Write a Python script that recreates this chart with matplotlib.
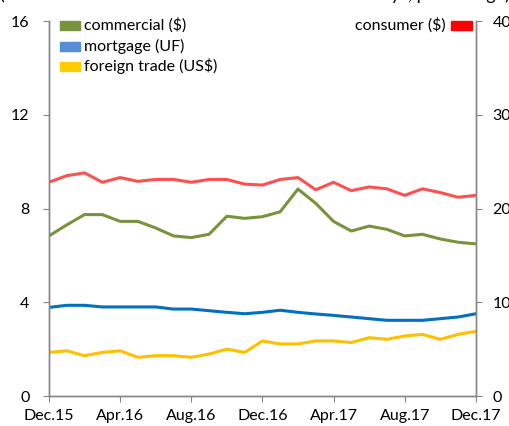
import matplotlib
matplotlib.use("Agg")
import matplotlib.pyplot as plt
from matplotlib.patches import Rectangle

plt.rcParams['font.family'] = ['Lato', 'DejaVu Sans']

months = ['Dec.15', 'Jan.16', 'Feb.16', 'Mar.16', 'Apr.16', 'May.16', 'Jun.16', 'Jul.16',
          'Aug.16', 'Sep.16', 'Oct.16', 'Nov.16', 'Dec.16', 'Jan.17', 'Feb.17', 'Mar.17',
          'Apr.17', 'May.17', 'Jun.17', 'Jul.17', 'Aug.17', 'Sep.17', 'Oct.17', 'Nov.17', 'Dec.17']

commercial = [6.83, 7.30, 7.74, 7.74, 7.45, 7.45, 7.17, 6.83, 6.76, 6.90, 7.67, 7.58, 7.65,
              7.86, 8.83, 8.22, 7.45, 7.04, 7.25, 7.11, 6.83, 6.90, 6.70, 6.56, 6.49]
mortgage = [3.78, 3.87, 3.87, 3.80, 3.80, 3.80, 3.80, 3.71, 3.71, 3.64, 3.57, 3.51, 3.57,
            3.66, 3.57, 3.50, 3.44, 3.37, 3.30, 3.23, 3.23, 3.23, 3.30, 3.37, 3.51]
foreign = [1.86, 1.93, 1.72, 1.86, 1.93, 1.65, 1.72, 1.72, 1.65, 1.79, 2.00, 1.86, 2.35,
           2.22, 2.22, 2.35, 2.35, 2.28, 2.49, 2.42, 2.56, 2.63, 2.42, 2.63, 2.76]
consumer = [22.8, 23.5, 23.8, 22.8, 23.3, 22.9, 23.1, 23.1, 22.8, 23.1, 23.1, 22.6, 22.5,
            23.1, 23.3, 22.0, 22.8, 21.9, 22.3, 22.1, 21.4, 22.1, 21.7, 21.2, 21.4]

left_ticks = [0, 4, 8, 12, 16]
right_ticks = [0, 10, 20, 30, 40]

c_green = '#77933C'
c_blue = '#0070C0'
c_yellow = '#FFC000'
c_red = '#FF5050'
spine_c = '#868686'

fig = plt.figure(figsize=(5.1, 4.26), dpi=100)
ax = fig.add_axes([0.096, 0.0704, 0.837, 0.8803])
ax2 = ax.twinx()

x = list(range(len(months)))
ax.plot(x, commercial, color=c_green, lw=2.2)
ax.plot(x, mortgage, color=c_blue, lw=2.2)
ax.plot(x, foreign, color=c_yellow, lw=2.2)
ax2.plot(x, consumer, color=c_red, lw=2.2)

ax.set_xlim(0, len(months) - 1)
ax.set_ylim(0, 16)
ax2.set_ylim(0, 40)
ax.set_yticks(left_ticks)
ax2.set_yticks(right_ticks)
ax.set_xticks(x[::4])
ax.set_xticklabels(months[::4])

for a in (ax, ax2):
    a.spines['top'].set_visible(False)
    for s in ('left', 'right', 'bottom'):
        a.spines[s].set_color(spine_c)
        a.spines[s].set_linewidth(1.0)
    a.tick_params(axis='both', direction='out', length=4, color=spine_c,
                  labelsize=11.5)
ax.tick_params(axis='y', pad=10)
ax2.tick_params(axis='y', pad=8)
ax.tick_params(axis='x', pad=5)

# title, cut off at the top in the reference
fig.text(0.5, 1.012, '(interest rates on non-indexed loans 90 to 360 days, percentage)',
         ha='center', va='center', fontsize=13)

# legend
W, H = 510, 426
items = [('commercial ($)', '#77933C', 21), ('mortgage (UF)', '#558ED5', 42),
         ('foreign trade (US$)', '#FFCC00', 62)]
for label, col, ytop in items:
    fig.patches.append(Rectangle((60 / W, 1 - (ytop + 9) / H), 20 / W, 9 / H,
                                 transform=fig.transFigure, color=col))
    fig.text(84 / W, 1 - (ytop + 4.5) / H, label, ha='left', va='center', fontsize=11.5)
fig.patches.append(Rectangle((451 / W, 1 - 30 / H), 21 / W, 9 / H,
                             transform=fig.transFigure, color='#FF0000'))
fig.text(446 / W, 1 - 25.5 / H, 'consumer ($)', ha='right', va='center', fontsize=11.5)

fig.savefig('out.png', dpi=100)
